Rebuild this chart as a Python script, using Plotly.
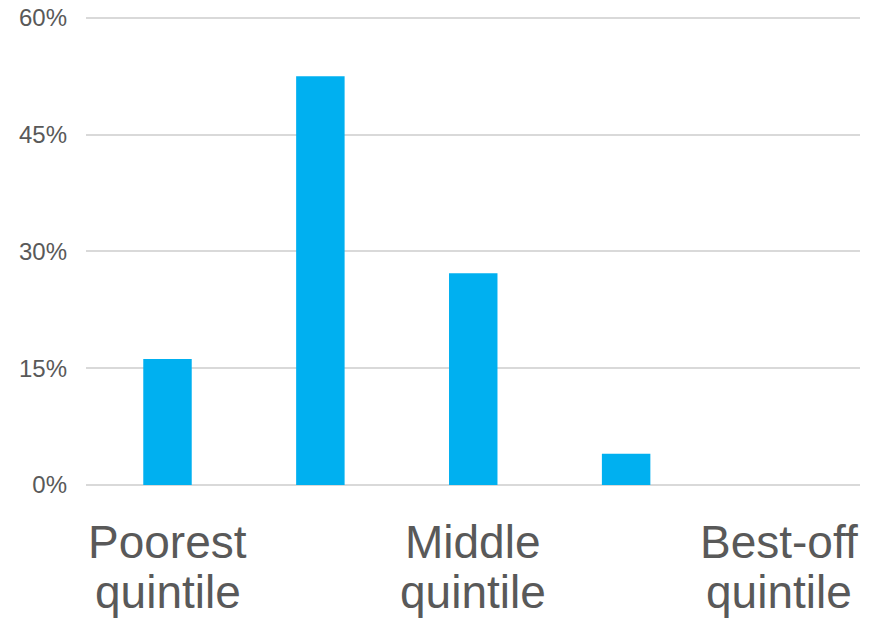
import plotly.graph_objects as go

categories = ["Poorest quintile", "Second quintile", "Middle quintile", "Fourth quintile", "Best-off quintile"]
values = [16.2, 52.5, 27.2, 4.0, 0.0]
label_line1 = ["Poorest", "", "Middle", "", "Best-off"]
label_line2 = ["quintile", "", "quintile", "", "quintile"]
y_ticks = [0, 15, 30, 45, 60]
y_tick_text = ["0%", "15%", "30%", "45%", "60%"]

fig = go.Figure(go.Bar(x=categories, y=values, marker_color="#00B0F0", marker_line_width=0))

fig.update_layout(
    width=879, height=623,
    margin=dict(l=86, r=19, t=16, b=138, autoexpand=False),
    plot_bgcolor="white", paper_bgcolor="white",
    bargap=0.683,
    showlegend=False,
    font=dict(family="Liberation Sans, Arial, sans-serif", color="#595959"),
)
fig.update_yaxes(
    range=[0, 60.25], tickvals=y_ticks, ticktext=y_tick_text,
    showgrid=True, gridcolor="#d9d9d9", gridwidth=2,
    zeroline=True, zerolinecolor="#d9d9d9", zerolinewidth=2,
    showline=False, tickfont=dict(size=24, color="#595959"),
    ticklabelstandoff=18, automargin=False,
)
fig.update_xaxes(
    tickvals=categories, showticklabels=False,
    showline=False, showgrid=False, automargin=False,
)
for cat, l1, l2 in zip(categories, label_line1, label_line2):
    if l1:
        fig.add_annotation(x=cat, xref="x", y=-0.121, yref="paper", text=l1,
                           showarrow=False, yanchor="middle", xanchor="center",
                           font=dict(size=46, color="#595959"))
    if l2:
        fig.add_annotation(x=cat, xref="x", y=-0.228, yref="paper", text=l2,
                           showarrow=False, yanchor="middle", xanchor="center",
                           font=dict(size=46, color="#595959"))
fig.write_html("out.html")
